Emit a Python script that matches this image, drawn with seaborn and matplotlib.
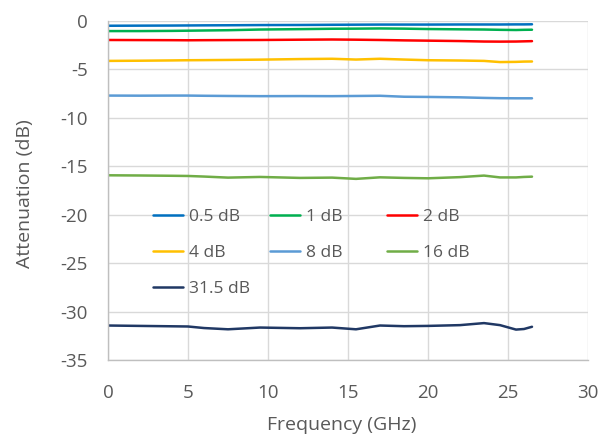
import matplotlib
matplotlib.use("Agg")
import matplotlib.pyplot as plt
import seaborn as sns
import pandas as pd
from matplotlib.lines import Line2D

freq = [0, 2, 4, 5, 6, 7.5, 9.5, 12, 14, 15.5, 17, 18.5, 20, 22, 23.5, 24.5, 25.5, 26, 26.5]
att_05 = [-0.49, -0.48, -0.47, -0.46, -0.45, -0.44, -0.42, -0.41, -0.39, -0.38, -0.37, -0.37, -0.37, -0.36, -0.36, -0.36, -0.35, -0.35, -0.34]
att_1 = [-1.04, -1.04, -1.02, -1.0, -0.98, -0.95, -0.88, -0.84, -0.8, -0.79, -0.77, -0.79, -0.83, -0.86, -0.88, -0.91, -0.93, -0.91, -0.9]
att_2 = [-1.96, -1.97, -1.98, -1.99, -1.98, -1.97, -1.96, -1.93, -1.91, -1.93, -1.96, -2.0, -2.03, -2.07, -2.12, -2.13, -2.12, -2.1, -2.08]
att_4 = [-4.12, -4.1, -4.07, -4.05, -4.04, -4.02, -3.99, -3.93, -3.9, -3.98, -3.9, -3.98, -4.05, -4.08, -4.12, -4.24, -4.22, -4.19, -4.18]
att_8 = [-7.7, -7.71, -7.7, -7.7, -7.72, -7.74, -7.76, -7.75, -7.76, -7.74, -7.72, -7.82, -7.84, -7.88, -7.94, -7.97, -7.98, -7.98, -7.98]
att_16 = [-15.93, -15.95, -15.98, -16.0, -16.06, -16.17, -16.1, -16.2, -16.17, -16.3, -16.14, -16.2, -16.24, -16.12, -15.96, -16.15, -16.15, -16.1, -16.07]
att_315 = [-31.44, -31.48, -31.52, -31.54, -31.7, -31.83, -31.65, -31.72, -31.65, -31.83, -31.44, -31.51, -31.48, -31.4, -31.19, -31.4, -31.86, -31.8, -31.57]

series_names = ["0.5 dB", "1 dB", "2 dB", "4 dB", "8 dB", "16 dB", "31.5 dB"]
series_values = [att_05, att_1, att_2, att_4, att_8, att_16, att_315]
colors = ["#0070C0", "#00B050", "#FF0000", "#FFC000", "#5B9BD5", "#70AD47", "#203864"]

x_ticks = [0, 5, 10, 15, 20, 25, 30]
y_ticks = [0, -5, -10, -15, -20, -25, -30, -35]

rows = []
for name, vals in zip(series_names, series_values):
    for f, v in zip(freq, vals):
        rows.append({"Frequency": f, "Attenuation": v, "Series": name})
df = pd.DataFrame(rows)

sns.set_style("white")
plt.rcParams["font.family"] = ["Open Sans", "DejaVu Sans"]
plt.rcParams["axes.unicode_minus"] = False

fig = plt.figure(figsize=(6.02, 4.38), dpi=100)
ax = fig.add_axes([108 / 602, 1 - 360 / 438, 480 / 602, 339 / 438])

palette = dict(zip(series_names, colors))
sns.lineplot(data=df, x="Frequency", y="Attenuation", hue="Series", palette=palette,
             hue_order=series_names, sort=False, linewidth=1.8, legend=False, ax=ax,
             estimator=None)

ax.set_xlim(0, 30)
ax.set_ylim(-35, 0)
ax.set_xticks(x_ticks)
ax.set_yticks(y_ticks)
ax.grid(True, color="#D9D9D9", linewidth=1.0)
ax.set_axisbelow(True)
for s in ["top", "right"]:
    ax.spines[s].set_visible(False)
for s in ["left", "bottom"]:
    ax.spines[s].set_color("#BFBFBF")
    ax.spines[s].set_linewidth(1.0)
ax.tick_params(axis="both", length=0, labelsize=13.5, labelcolor="#595959")
ax.tick_params(axis="x", pad=17.5)
ax.tick_params(axis="y", pad=14.5)
ax.set_xlabel("Frequency (GHz)", fontsize=14, color="#595959", va="center")
ax.set_ylabel("Attenuation (dB)", fontsize=14, color="#595959", va="center")
ax.xaxis.set_label_coords((342 - 108) / 480, (360 - 425) / 339)
ax.yaxis.set_label_coords((25 - 108) / 480, 0.49)

# Legend: three columns with equal widths (Excel style)
columns = [[0, 3, 6], [1, 4], [2, 5]]
col_x = [153, 270, 387]
legs = []
for cx, idxs in zip(col_x, columns):
    handles = [Line2D([0], [0], color=colors[i], lw=1.8) for i in idxs]
    labels = [series_names[i] for i in idxs]
    leg = ax.legend(handles, labels, loc="upper left",
                    bbox_to_anchor=((cx - 108) / 480, (360 - 209) / 339),
                    frameon=False, borderpad=0, borderaxespad=0, fontsize=12.5,
                    handlelength=1.7, handletextpad=0.35, labelspacing=1.14,
                    labelcolor="#595959")
    legs.append(leg)
for leg in legs[:-1]:
    ax.add_artist(leg)

fig.savefig("out.png", dpi=100)
